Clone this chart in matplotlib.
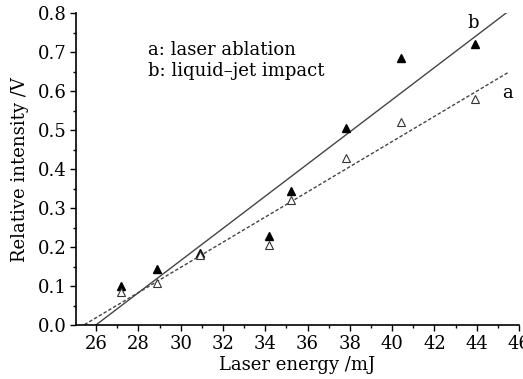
import numpy as np
import matplotlib
matplotlib.use("Agg")
import matplotlib.pyplot as plt
from matplotlib.ticker import MultipleLocator

# laser energy (mJ) and relative intensity (V)
energy = [27.2, 28.9, 30.9, 34.2, 35.2, 37.8, 40.4, 43.9]
intensity_a = [0.085, 0.11, 0.18, 0.205, 0.32, 0.43, 0.52, 0.58]   # laser ablation
intensity_b = [0.10, 0.145, 0.185, 0.23, 0.345, 0.505, 0.685, 0.72]  # liquid-jet impact

plt.rcParams['font.family'] = ['DejaVu Serif']
plt.rcParams['font.size'] = 13

fig = plt.figure(figsize=(5.23, 3.79), dpi=100)
ax = fig.add_axes([0.1453, 0.1412, 0.8470, 0.8245])

# linear fits
x_fit = np.array([25.0, 45.5])
pa = np.polyfit(energy, intensity_a, 1)
pb = np.polyfit(energy, intensity_b, 1)
ax.plot(x_fit, np.polyval(pb, x_fit), color='#444444', lw=1.0, ls='-')
ax.plot(x_fit, np.polyval(pa, x_fit), color='#444444', lw=1.0, ls=(0, (2.5, 1.5)))

ax.plot(energy, intensity_b, ls='none', marker='^', ms=6, color='black')
ax.plot(energy, intensity_a, ls='none', marker='^', ms=6, mfc='white', mec='#333333', mew=0.8)

ax.text(43.83, 0.774, 'b', fontsize=13, ha='center', va='center')
ax.text(45.48, 0.595, 'a', fontsize=13, ha='center', va='center')
ax.text(28.46, 0.705, 'a: laser ablation', fontsize=13, ha='left', va='center')
ax.text(28.46, 0.652, 'b: liquid\u2013jet impact', fontsize=13, ha='left', va='center')

ax.set_xlim(25.05, 46.0)
ax.set_ylim(0, 0.8)
ax.xaxis.set_major_locator(MultipleLocator(2))
ax.xaxis.set_minor_locator(MultipleLocator(1))
ax.yaxis.set_major_locator(MultipleLocator(0.1))
ax.yaxis.set_minor_locator(MultipleLocator(0.05))
ax.yaxis.set_major_formatter(plt.FormatStrFormatter('%.1f'))
ax.tick_params(which='major', length=4, width=1, direction='out', labelsize=13, pad=3)
ax.tick_params(which='minor', length=2, width=1, direction='out')

ax.spines['top'].set_visible(False)
ax.spines['right'].set_visible(False)
for s in ('left', 'bottom'):
    ax.spines[s].set_linewidth(1.2)

ax.set_xlabel('Laser energy /mJ', fontsize=13, labelpad=2)
ax.set_ylabel('Relative intensity /V', fontsize=13)
ax.yaxis.set_label_coords(-0.105, 0.5)

fig.savefig('out.png', dpi=100)
